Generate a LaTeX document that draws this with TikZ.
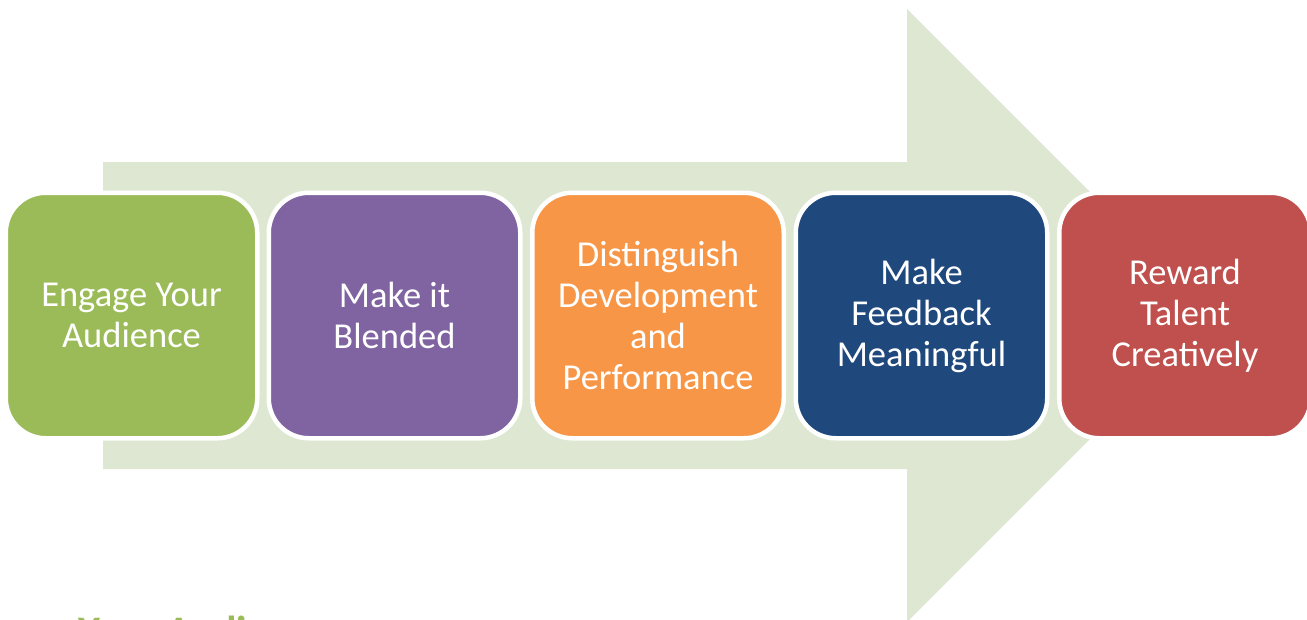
\documentclass[tikz,border=0pt]{standalone}
\usepackage{fontspec}
\setmainfont{Carlito}
\definecolor{arrowfill}{RGB}{222,231,210}
\definecolor{stepgreen}{RGB}{155,187,89}
\definecolor{steppurple}{RGB}{128,100,162}
\definecolor{steporange}{RGB}{247,150,70}
\definecolor{stepblue}{RGB}{31,73,125}
\definecolor{stepred}{RGB}{192,80,77}
\definecolor{headgreen}{RGB}{155,187,89}
\tikzset{
  stepbox/.style={rounded corners=40pt, draw=white, line width=4.5pt,
    minimum width=251.5pt, minimum height=245.5pt, text=white, align=center,
    font=\fontsize{36.5}{41}\selectfont, inner sep=0pt},
}
\begin{document}
\begin{tikzpicture}[x=1pt,y=-1pt]
  \useasboundingbox (0,0) rectangle (1307,619);
  \clip (0,0) rectangle (1307,619);
  % wide background arrow
  \fill[arrowfill] (103,162) -- (907,162) -- (907,9) -- (1213.5,315.5)
    -- (907,622) -- (907,469) -- (103,469) -- cycle;
  % the five steps
  \node[stepbox, fill=stepgreen]  (s1) at (131.5,315.5) {Engage Your\\Audience};
  \node[stepbox, fill=steppurple] (s2) at (394.5,315.5) {Make it\\Blended};
  \node[stepbox, fill=steporange] (s3) at (658,315.5) {Distinguish\\Development\\and\\Performance};
  \node[stepbox, fill=stepblue]   (s4) at (921.5,315.5) {Make\\Feedback\\Meaningful};
  \node[stepbox, fill=stepred]    (s5) at (1185,315.5) {Reward\\Talent\\Creatively};
  % heading below, running off the lower edge
  \node[anchor=base west, inner sep=0pt, text=headgreen,
    font=\fontsize{42}{50}\selectfont\bfseries] (h) at (78,645) {Your Audience};
\end{tikzpicture}
\end{document}
